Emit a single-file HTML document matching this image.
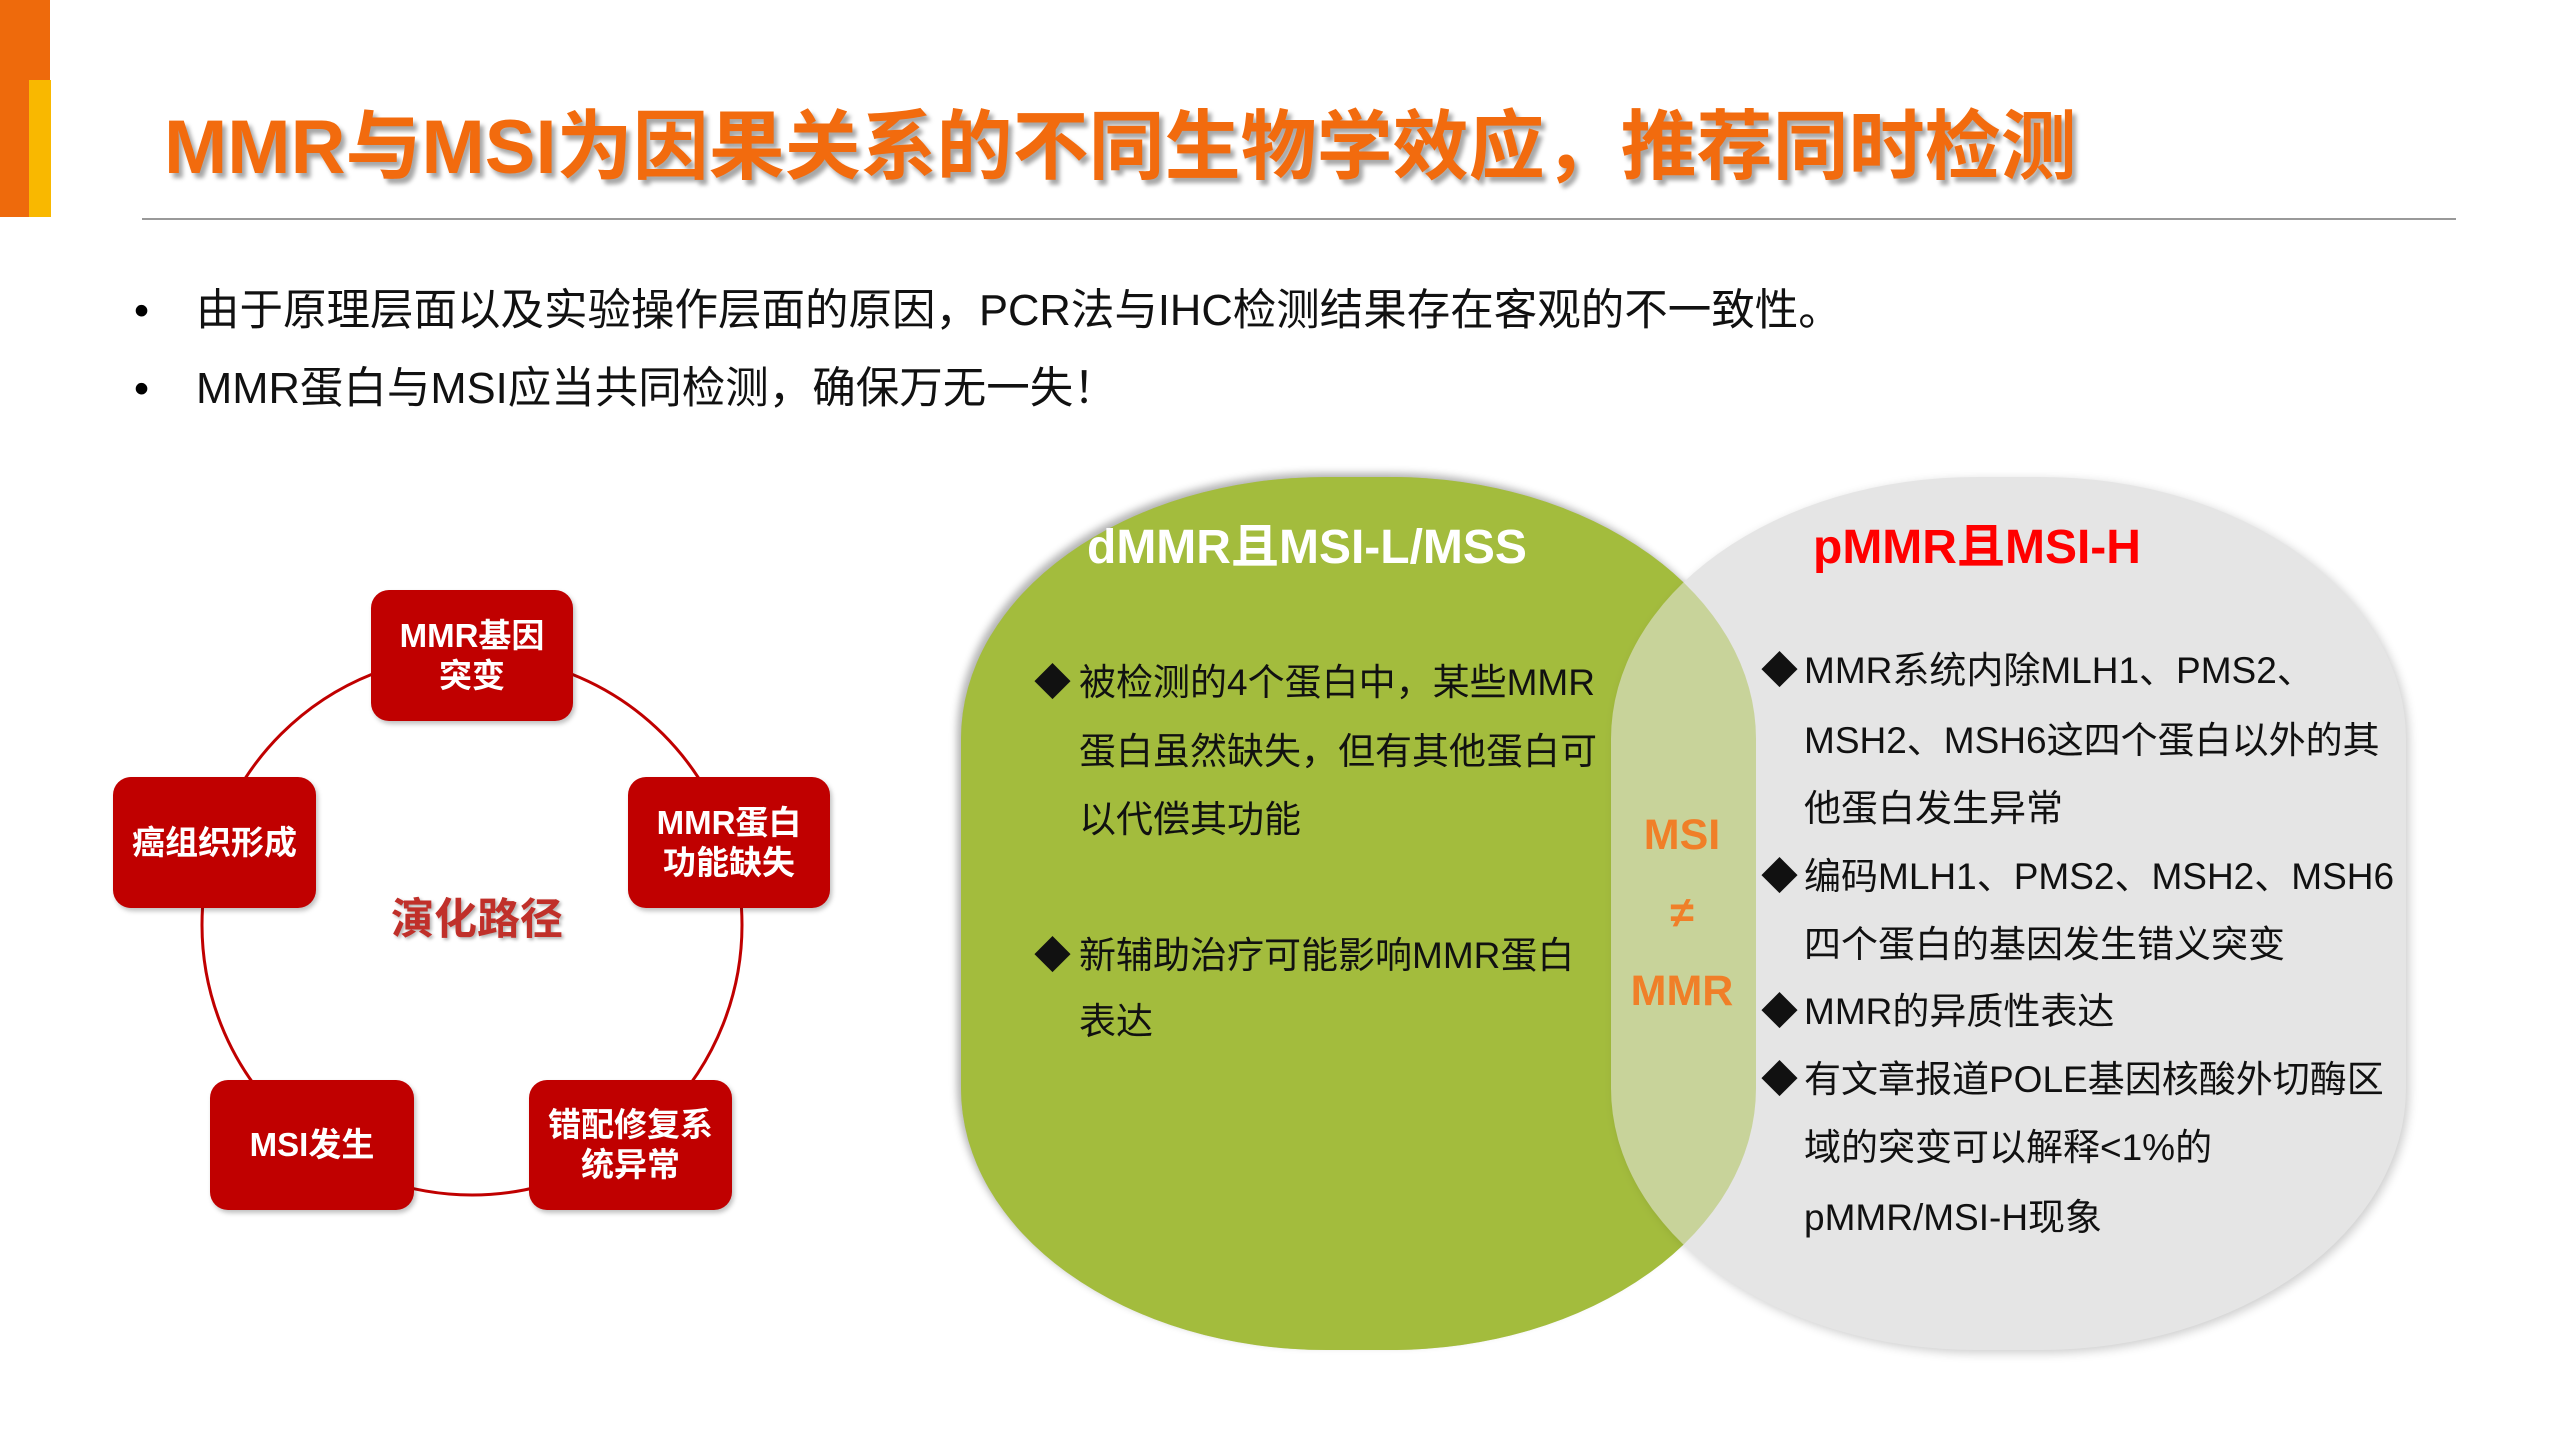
<!DOCTYPE html>
<html><head><meta charset="utf-8"><style>
body{margin:0;width:2560px;height:1440px;background:#fff;position:relative;overflow:hidden;font-family:"Liberation Sans","Noto Sans CJK SC",sans-serif;}
.a{position:absolute;white-space:nowrap;}
.c{position:absolute;line-height:50px;height:50px;white-space:nowrap;}
.box{position:absolute;background:#C00000;border-radius:18px;color:#fff;font-weight:bold;font-size:33px;line-height:40px;display:flex;align-items:center;justify-content:center;text-align:center;box-shadow:2px 3px 5px rgba(0,0,0,0.25);}
.t{font-size:37px;color:#111;}
.sh{border-radius:46% 46% 46% 46% / 30% 30% 30% 30%;}
</style></head><body>
<div class="a" style="left:0;top:0;width:50px;height:217px;background:#EE6A0C"></div>
<div class="a" style="left:29px;top:80px;width:22px;height:137px;background:#F9B800"></div>
<div class="a" style="left:164px;top:98px;font-size:76px;line-height:100px;font-weight:bold;color:#F26B0E;text-shadow:4px 5px 4px rgba(0,0,0,0.35);">MMR与MSI为因果关系的不同生物学效应，推荐同时检测</div>
<div class="a" style="left:142px;top:218px;width:2314px;height:2px;background:#999"></div>
<div class="c" style="left:134px;top:286px;font-size:43px;">•</div>
<div class="c" style="left:196px;top:286px;font-size:43.5px;color:#111">由于原理层面以及实验操作层面的原因，PCR法与IHC检测结果存在客观的不一致性。</div>
<div class="c" style="left:134px;top:364px;font-size:43px;">•</div>
<div class="c" style="left:196px;top:364px;font-size:43.5px;color:#111">MMR蛋白与MSI应当共同检测，确保万无一失！</div>

<svg class="a" style="left:0;top:0" width="960" height="1440"><circle cx="472" cy="925" r="270" fill="none" stroke="#C00000" stroke-width="3"/></svg>
<div class="box" style="left:371px;top:590px;width:202px;height:131px">MMR基因<br>突变</div>
<div class="box" style="left:628px;top:777px;width:202px;height:131px">MMR蛋白<br>功能缺失</div>
<div class="box" style="left:113px;top:777px;width:203px;height:131px">癌组织形成</div>
<div class="box" style="left:210px;top:1080px;width:204px;height:130px">MSI发生</div>
<div class="box" style="left:529px;top:1080px;width:203px;height:130px">错配修复系<br>统异常</div>
<div class="c" style="left:377px;top:895px;width:200px;text-align:center;font-size:43px;font-weight:bold;color:#C0302A;text-shadow:2px 2px 3px rgba(0,0,0,0.3)">演化路径</div>

<div class="a sh" style="left:961px;top:477px;width:795px;height:873px;background:#A3BC3D;box-shadow:-4px -4px 8px rgba(0,0,0,0.3)"></div>
<div class="a sh" style="left:1611px;top:477px;width:795px;height:873px;background:#E5E5E5;box-shadow:3px 3px 10px rgba(0,0,0,0.2)"></div>
<div class="a sh" style="left:961px;top:477px;width:795px;height:873px;background:#A3BC3D;opacity:0.45"></div>

<div class="c" style="left:1087px;top:523px;font-size:48px;font-weight:bold;color:#fff">dMMR且MSI-L/MSS</div>
<div class="c" style="left:1813px;top:523px;font-size:48px;font-weight:bold;color:#FF0000">pMMR且MSI-H</div>

<div class="c t" style="left:1034px;top:658px">◆</div>
<div class="c t" style="left:1079px;top:658px">被检测的4个蛋白中，某些MMR</div>
<div class="c t" style="left:1079px;top:727px">蛋白虽然缺失，但有其他蛋白可</div>
<div class="c t" style="left:1079px;top:795px">以代偿其功能</div>
<div class="c t" style="left:1034px;top:931px">◆</div>
<div class="c t" style="left:1079px;top:931px">新辅助治疗可能影响MMR蛋白</div>
<div class="c t" style="left:1079px;top:997px">表达</div>

<div class="c" style="left:1582px;top:810px;width:200px;text-align:center;font-size:43px;font-weight:bold;color:#F07F28">MSI</div>
<div class="c" style="left:1582px;top:888px;width:200px;text-align:center;font-size:43px;font-weight:bold;color:#F07F28">≠</div>
<div class="c" style="left:1582px;top:966px;width:200px;text-align:center;font-size:43px;font-weight:bold;color:#F07F28">MMR</div>

<div class="c t" style="left:1761px;top:646px">◆</div>
<div class="c t" style="left:1804px;top:646px">MMR系统内除MLH1、PMS2、</div>
<div class="c t" style="left:1804px;top:716px">MSH2、MSH6这四个蛋白以外的其</div>
<div class="c t" style="left:1804px;top:784px">他蛋白发生异常</div>
<div class="c t" style="left:1761px;top:852px">◆</div>
<div class="c t" style="left:1804px;top:852px">编码MLH1、PMS2、MSH2、MSH6</div>
<div class="c t" style="left:1804px;top:920px">四个蛋白的基因发生错义突变</div>
<div class="c t" style="left:1761px;top:987px">◆</div>
<div class="c t" style="left:1804px;top:987px">MMR的异质性表达</div>
<div class="c t" style="left:1761px;top:1055px">◆</div>
<div class="c t" style="left:1804px;top:1055px">有文章报道POLE基因核酸外切酶区</div>
<div class="c t" style="left:1804px;top:1123px">域的突变可以解释&lt;1%的</div>
<div class="c t" style="left:1804px;top:1193px">pMMR/MSI-H现象</div>
</body></html>
